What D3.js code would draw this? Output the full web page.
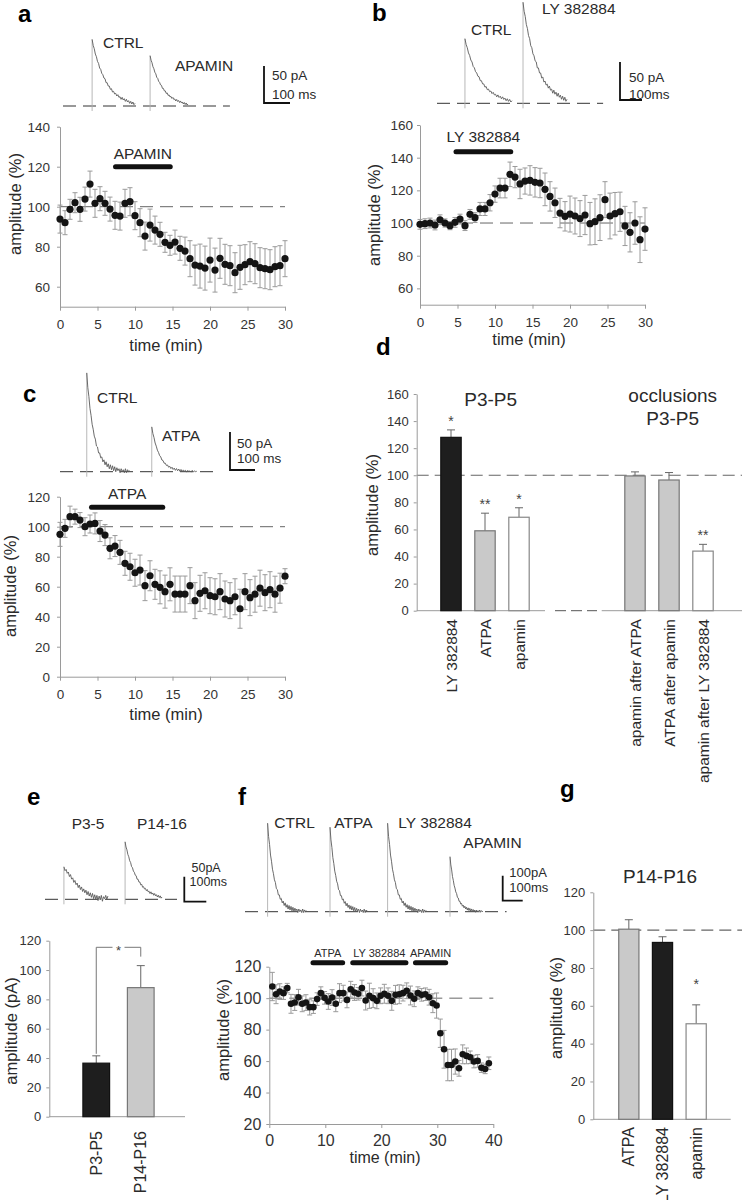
<!DOCTYPE html>
<html><head><meta charset="utf-8">
<script src="https://cdn.jsdelivr.net/npm/d3@7/dist/d3.min.js"></script>
<style>
html,body{margin:0;padding:0;background:#fff}
svg{display:block}
text{font-family:"Liberation Sans",Arial,Helvetica,sans-serif}
</style></head>
<body>
<svg id="fig" width="742" height="1200" viewBox="0 0 742 1200"></svg>
<script>
// ================= DATA =================
const sampleStep = 2/3;            // minutes between time-course samples
const abcXTicks = [0,5,10,15,20,25,30];

// panel a (apamin time course)
const aYTicks = [60,80,100,120,140];
const aStart = 0;
const aValues = [93.8,92,98.7,102,98.7,103.8,111.3,101.7,104,101.7,98.8,95.7,95.3,101.7,102.5,95.5,92,85.3,90.8,88.3,86.2,82.2,80.7,82.3,79.2,77.8,74,70.8,70.3,69.3,73.3,68.3,74.2,71.2,70.5,67,69.7,71,72.5,71.5,69.5,69,68.5,70,70.5,74];
const aErrors = [7,6,5,5,6,6,6.5,7,6,6,6,7,7,7,7,7,7,7,8,7,6,5,5,6,6,7,9,10,11,11,11,11,10,10,10,10,11,10,10,10,10,10,10,10,10,9];
const aDrugs = [{label:"APAMIN", start:7.4, end:14.7}];

// panel b (LY 382884 time course)
const bYTicks = [60,80,100,120,140,160];
const bStart = 0;
const bValues = [99.2,99.6,100,98.8,102,100,98.4,100.4,102.4,98.4,105.3,103.3,108.6,108.6,112.4,117.7,121.4,121.4,129.8,128.1,123.9,125.7,126.1,124.9,124.5,120.6,116.3,112.4,106.1,104.1,105.5,104.3,102.7,104.9,99.6,100.8,103.3,114.3,104.3,105.7,106.9,98.2,94.3,100,89.8,96.3];
const bErrors = [3,3,3,3,3,2.5,2.5,3,3,3,3,3,4,4,5,5,6,6,7.5,6.5,9,8,9,9,9,10,9,9,9,9,11,11,11,12,13,14,14,11,14,13,12,12,12,13,14,13];
const bDrugs = [{label:"LY 382884", start:4.8, end:12.1}];

// panel c (ATPA time course)
const cYTicks = [0,20,40,60,80,100,120];
const cStart = 0;
const cValues = [94.9,98.9,106.7,106.7,104.4,100,101.8,102.2,97.1,94.4,85.6,87.1,82.9,75.6,73.3,69.3,71.1,60.7,67.3,61.6,59.6,56.7,61.6,55.1,55.1,55.1,60.7,50.7,55.6,57.3,54,53.3,56.7,51.8,50.7,53.3,45.3,56.7,52.7,55,59,56,58,55,59,67];
const cErrors = [8,6,7,5,5,6,6,7,7,7,7,7,8,8,9,9,10,10,10,10,11,11,11,12,12,12,12,12,12,12,12,12,12,12,12,12,13,12,12,12,12,12,12,12,10,5];
const cDrugs = [{label:"ATPA", start:4.2, end:13.7}];

// panel d (P3-P5 bar chart)
const dYTicks = [0,20,40,60,80,100,120,140,160];
const dCats1 = ["LY 382884","ATPA","apamin"];
const dVals1 = [128,59,69];
const dErrs1 = [5.5,13,7];
const dSigs1 = ["*","**","*"];
const dCats2 = ["apamin after ATPA","ATPA after apamin","apamin after LY 382884"];
const dVals2 = [99.5,96.5,44];
const dErrs2 = [3,5.5,5];
const dSigs2 = ["","","**"];

// panel e (absolute amplitude)
const eYTicks = [0,20,40,60,80,100,120];
const eCats = ["P3-P5","P14-P16"];
const eVals = [36.5,88];
const eErrs = [5,15];

// panel f (sequential application, P14-P16)
const fYTicks = [20,40,60,80,100,120];
const fXTicks = [0,10,20,30,40];
const fStart = 0.54;
const fValues = [107.4,102.5,104.2,103.2,106.4,96.4,97.2,100.6,96.4,97.2,94.3,94.3,99.4,103.2,100.2,97.9,100.4,96.4,103.2,103.2,98.9,105.7,103.6,102.8,106.4,98.5,101.5,100,98.3,101.5,102.8,101.5,98.3,102.1,102.5,103.2,104.7,101.7,99.6,103.2,102.1,102.5,100.6,96.8,95.3,77.7,67.5,57.5,57.5,59.7,55.4,64.3,63.3,62.4,59.7,60.1,55.8,55,58.6];
const fErrors = [9,6,5,4,3,6,5,5,5,5,5,4,4,4,4,5,5,5,6,5,5,5,5,4,5,6,8,6,5,5,6,5,6,6,6,5,5,6,5,4,4,4,5,6,8,9,12,10,10,8,5,6,5,4,4,4,3,3,4];
const fDrugs = [{label:"ATPA", start:7.8, end:13.1},{label:"LY 382884", start:14.9, end:24.4},{label:"APAMIN", start:26.1, end:31.5}];

// panel g (P14-P16 bar chart)
const gYTicks = [0,20,40,60,80,100,120];
const gCats = ["ATPA","LY 382884","apamin"];
const gVals = [100.5,93.5,50.5];
const gErrs = [5,3,10];
const gSigs = ["","","*"];

// example current traces: normalised decay shapes
const shapeSlow = [1.00,0.91,0.86,0.78,0.74,0.67,0.64,0.57,0.55,0.49,0.47,0.42,0.41,0.35,0.35,0.30,0.30,0.25,0.26,0.21,0.22,0.18,0.19,0.15,0.17,0.13,0.14,0.10,0.13,0.09,0.11,0.07,0.10,0.06,0.08,0.04,0.07,0.03,0.06,0.02,0.04];
const shapeFast = [1.00,0.85,0.76,0.64,0.57,0.48,0.43,0.36,0.33,0.26,0.25,0.19,0.19,0.14,0.15,0.10,0.12,0.07,0.10,0.05,0.08,0.03,0.07,0.02,0.06,0.01,0.05,0.00,0.04,0.01,0.03,-0.01,0.03,0.00,0.02,-0.01,0.03,-0.01,0.02,0.00,0.01];
const shapeNoisy = [1.00,0.88,0.92,0.80,0.84,0.70,0.76,0.62,0.66,0.52,0.58,0.45,0.50,0.36,0.44,0.30,0.38,0.24,0.32,0.20,0.28,0.14,0.24,0.10,0.20,0.06,0.18,0.02,0.14,0.00,0.12,-0.04,0.10,-0.02,0.12,-0.06,0.08,0.02,0.12,0.00,0.10];
// traces: onset (ms), peak (pA), decay duration (ms)
const aTraces = [{name:"CTRL", onset:112, peak:90, dur:165, shape:"slow"},{name:"APAMIN", onset:335, peak:68, dur:146, shape:"slow"}];
const bTraces = [{name:"CTRL", onset:127, peak:85, dur:214, shape:"slow"},{name:"LY 382884", onset:391, peak:133, dur:200, shape:"slow"}];
const cTraces = [{name:"CTRL", onset:107, peak:130, dur:172, shape:"fast"},{name:"ATPA", onset:367, peak:59, dur:180, shape:"fast"}];
const eTraces = [{name:"P3-5", onset:86, peak:65, dur:200, shape:"noisy"},{name:"P14-16", onset:364, peak:115, dur:168, shape:"slow"}];
const fTraces = [{name:"CTRL", onset:113, peak:354, dur:195, shape:"fast"},{name:"ATPA", onset:425, peak:338, dur:190, shape:"fast"},{name:"LY 382884", onset:713, peak:354, dur:195, shape:"fast"},{name:"APAMIN", onset:1025, peak:220, dur:165, shape:"fast"}];

// ================= DRAWING =================
const shapes = {slow:shapeSlow, fast:shapeFast, noisy:shapeNoisy};
const svg = d3.select('#fig');
const INK = '#2a2a2a', AX = '#9a9a9a', ERR = '#9a9a9a';

function label(g, x, y, s, size, o={}) {
  const t = g.append('text').attr('x',x).attr('y',y).attr('font-size',size).attr('fill',o.fill||INK).text(s);
  if (o.anchor) t.attr('text-anchor',o.anchor);
  if (o.weight) t.attr('font-weight',o.weight);
  if (o.rotate) t.attr('transform',`rotate(-90,${x},${y})`);
  return t;
}
function styleAxis(sel, size) {
  sel.attr('font-size', size).attr('font-family', null);
  sel.select('.domain').attr('stroke', AX);
  sel.selectAll('.tick line').attr('stroke', AX);
  sel.selectAll('.tick text').attr('fill', '#333');
}

function timeCourse(o) {
  const g = svg.append('g');
  const x = d3.scaleLinear().domain(o.xDomain).range(o.xRange);
  const y = d3.scaleLinear().domain(o.yDomain).range(o.yRange);
  g.append('line').attr('x1',o.xRange[0]).attr('x2',o.xRange[1]).attr('y1',y(100)).attr('y2',y(100))
    .attr('stroke','#666').attr('stroke-width',1).attr('stroke-dasharray','13,7');
  const ya = g.append('g').attr('transform',`translate(${o.xRange[0]},0)`)
    .call(d3.axisLeft(y).tickValues(o.yTicks).tickSize(3).tickSizeOuter(0).tickPadding(o.yPad));
  const xa = g.append('g').attr('transform',`translate(0,${o.yRange[0]})`)
    .call(d3.axisBottom(x).tickValues(o.xTicks).tickSize(4).tickSizeOuter(0).tickPadding(o.xPad||9));
  styleAxis(ya, o.tickFont); styleAxis(xa, o.tickFont);
  const pts = o.values.map((v,i)=>({t:o.t0+i*sampleStep, v, e:o.errors[i]}));
  const eb = g.append('g').attr('stroke',ERR).attr('stroke-width',1);
  pts.forEach(p=>{
    const cx = x(p.t), y1 = y(p.v-p.e), y2 = y(p.v+p.e);
    eb.append('line').attr('x1',cx).attr('x2',cx).attr('y1',y1).attr('y2',y2);
    eb.append('line').attr('x1',cx-2.5).attr('x2',cx+2.5).attr('y1',y1).attr('y2',y1);
    eb.append('line').attr('x1',cx-2.5).attr('x2',cx+2.5).attr('y1',y2).attr('y2',y2);
  });
  g.append('g').selectAll('circle').data(pts).join('circle')
    .attr('cx',d=>x(d.t)).attr('cy',d=>y(d.v)).attr('r',o.r).attr('fill','#141414');
  o.drugs.forEach(d=>{
    g.append('line').attr('x1',x(d.start)).attr('x2',x(d.end)).attr('y1',y(o.drugY)).attr('y2',y(o.drugY))
      .attr('stroke','#111').attr('stroke-width',o.drugW).attr('stroke-linecap','round');
    label(g,(x(d.start)+x(d.end))/2, y(o.drugY)-o.drugGap, d.label, o.drugFont, {anchor:'middle'});
  });
  label(g, o.xTitle[0], o.xTitle[1], 'time (min)', o.titleFont||16.5, {anchor:'middle'});
  label(g, o.yTitle[0], o.yTitle[1], 'amplitude (%)', 16.5, {anchor:'middle', rotate:true});
}

function tracePanel(o) {
  const g = svg.append('g');
  const tx = d3.scaleLinear().domain([0,100]).range([o.x0, o.x0+o.px100ms]);
  const ty = d3.scaleLinear().domain([0,50]).range([o.base, o.base-o.px50pA]);
  g.append('line').attr('x1',tx(0)).attr('x2',tx(o.endMs)).attr('y1',ty(0)).attr('y2',ty(0))
    .attr('stroke','#333').attr('stroke-width',1).attr('stroke-dasharray','13,7');
  o.traces.forEach((tr,k)=>{
    const sh = shapes[tr.shape];
    const pts = sh.map((s,i)=>[tr.onset + i*tr.dur/(sh.length-1), tr.peak*s]);
    g.append('line').attr('x1',tx(tr.onset)).attr('x2',tx(tr.onset)).attr('y1',ty(0)+5).attr('y2',ty(tr.peak))
      .attr('stroke','#b0b0b0').attr('stroke-width',0.9);
    g.append('path').attr('d',d3.line().x(d=>tx(d[0])).y(d=>ty(d[1]))(pts))
      .attr('fill','none').attr('stroke','#5a5a5a').attr('stroke-width',0.9);
    const L = o.labels[k];
    label(g, L[0], L[1], tr.name, 15.5, {anchor:L[2]||'start'});
  });
  const sb = o.scaleBar;
  const h = ty(0)-ty(sb.pA), w = tx(100)-tx(0);
  g.append('path').attr('d',`M${sb.x},${sb.y-h}V${sb.y}H${sb.x+w}`)
    .attr('fill','none').attr('stroke','#111').attr('stroke-width',1.8);
  label(g, sb.tx, sb.t1y, sb.t1, sb.font);
  label(g, sb.tx2 || sb.tx, sb.t2y, sb.t2, sb.font);
}

function barChart(o) {
  const g = svg.append('g');
  const y = d3.scaleLinear().domain(o.yDomain).range(o.yRange);
  if (o.dashEnd) g.append('line').attr('x1',o.axisX).attr('x2',o.dashEnd).attr('y1',y(100)).attr('y2',y(100))
    .attr('stroke','#666').attr('stroke-width',1.2).attr('stroke-dasharray','12,6');
  const ya = g.append('g').attr('transform',`translate(${o.axisX},0)`)
    .call(d3.axisLeft(y).tickValues(o.yTicks).tickSize(3).tickSizeOuter(0).tickPadding(o.yPad));
  styleAxis(ya, o.tickFont);
  o.xSegments.forEach(s=>{
    const l = g.append('line').attr('x1',s[0]).attr('x2',s[1]).attr('y1',y(0)).attr('y2',y(0)).attr('stroke',AX).attr('stroke-width',1);
    if (s[2]) l.attr('stroke','#555').attr('stroke-dasharray',s[2]);
  });
  const centers = [];
  o.groups.forEach(gr=>{
    const x = d3.scaleBand().domain(gr.cats).range(gr.range).paddingInner(0.4).paddingOuter(0.2);
    gr.cats.forEach((c,i)=>{
      const v = gr.vals[i], e = gr.errs[i], cx = x(c)+x.bandwidth()/2;
      centers.push(cx);
      g.append('line').attr('x1',cx).attr('x2',cx).attr('y1',y(v)).attr('y2',y(v+e)).attr('stroke','#666');
      g.append('line').attr('x1',cx-4).attr('x2',cx+4).attr('y1',y(v+e)).attr('y2',y(v+e)).attr('stroke','#666');
      g.append('rect').attr('x',x(c)).attr('y',y(v)).attr('width',x.bandwidth()).attr('height',y(0)-y(v))
        .attr('fill',gr.fills[i]).attr('stroke',gr.strokes[i]).attr('stroke-width',1.2);
      if (gr.sigs && gr.sigs[i]) label(g, cx, y(v+e)-o.sigGap+8, gr.sigs[i], 14, {anchor:'middle', fill:'#444'});
      label(g, cx+5.5, o.labelTop, c, o.catFont, {anchor:'end', rotate:true});
    });
  });
  (o.titles||[]).forEach(t=>label(g, t[0], t[1], t[2], 19, {anchor:'middle'}));
  label(g, o.yTitle[0], o.yTitle[1], o.yTitle[2], 16.5, {anchor:'middle', rotate:true});
  return {g, y, centers};
}

// ---- panel letters
[["a",18,22],["b",372,21],["c",23,402],["d",376,355],["e",27,805],["f",238,805],["g",560,797]]
  .forEach(p=>label(svg, p[1], p[2], p[0], 24, {weight:'bold', fill:'#000'}));

// ---- traces
tracePanel({x0:63, base:106, px100ms:26, px50pA:37, endMs:642, traces:aTraces,
  labels:[[103,48.3],[175,70.7]],
  scaleBar:{x:264, y:103, pA:50, tx:272, t1:'50 pA', t1y:80, t2:'100 ms', t2y:99, font:13.5}});
tracePanel({x0:437, base:103.3, px100ms:22, px50pA:38, endMs:755, traces:bTraces,
  labels:[[471,35],[542,13.5]],
  scaleBar:{x:620, y:100, pA:50, tx:629, t1:'50 pA', t1y:82, t2:'100ms', t2y:99, font:13.5}});
tracePanel({x0:60, base:471.7, px100ms:25, px50pA:38, endMs:628, traces:cTraces,
  labels:[[97,402.7],[162,440.7]],
  scaleBar:{x:230, y:470, pA:50, tx:237, t1:'50 pA', t1y:448, t2:'100 ms', t2y:463, font:13.5}});
tracePanel({x0:45, base:899.3, px100ms:22, px50pA:25, endMs:600, traces:eTraces,
  labels:[[88,829,'middle'],[162,829,'middle']],
  scaleBar:{x:184.3, y:901.7, pA:50, tx:191.5, tx2:189.5, t1:'50pA', t1y:872, t2:'100ms', t2y:885.5, font:12.5}});
tracePanel({x0:245, base:911.7, px100ms:20, px50pA:12.5, endMs:1308, traces:fTraces,
  labels:[[274.3,828],[334.3,828],[398.3,828],[463.3,848]],
  scaleBar:{x:502.7, y:900.7, pA:100, tx:509.3, t1:'100pA', t1y:876.7, t2:'100ms', t2y:891.7, font:13}});

// ---- time courses
timeCourse({xDomain:[0,30], xRange:[60,285], yDomain:[50,140], yRange:[306.7,126.7], yTicks:aYTicks, xTicks:abcXTicks,
  tickFont:13.5, yPad:7, t0:aStart, values:aValues, errors:aErrors, r:3.6, drugs:aDrugs, drugY:120, drugW:5, drugGap:7.4,
  drugFont:15.5, xTitle:[166,351], yTitle:[21,204]});
timeCourse({xDomain:[0,30], xRange:[420,645], yDomain:[50,160], yRange:[304.7,125], yTicks:bYTicks, xTicks:abcXTicks,
  tickFont:13.5, yPad:4, t0:bStart, values:bValues, errors:bErrors, r:3.6, drugs:bDrugs, drugY:143.6, drugW:5, drugGap:10,
  drugFont:15.5, xTitle:[529,345], yTitle:[380,215]});
timeCourse({xDomain:[0,30], xRange:[60,285], yDomain:[0,120], yRange:[676.7,496.7], yTicks:cYTicks, xTicks:abcXTicks,
  tickFont:13.5, yPad:7, t0:cStart, values:cValues, errors:cErrors, r:3.6, drugs:cDrugs, drugY:112.9, drugW:5, drugGap:8.3,
  drugFont:15.5, xTitle:[166,720], yTitle:[16,586]});
timeCourse({xDomain:[0,40], xRange:[269.3,493.3], yDomain:[20,120], yRange:[1124,966.7], yTicks:fYTicks, xTicks:fXTicks,
  tickFont:16, yPad:5, xPad:6.5, t0:fStart, values:fValues, errors:fErrors, r:3.3, drugs:fDrugs, drugY:122.5, drugW:5, drugGap:6,
  drugFont:11, xTitle:[385,1162.5], titleFont:16, yTitle:[229,1030]});

// ---- bar charts
barChart({yDomain:[0,160], yRange:[610.7,394], axisX:416.7, yTicks:dYTicks, tickFont:13, yPad:5, dashEnd:742,
  xSegments:[[416.7,545],[555,597,'11,5'],[601.7,742]],
  groups:[
    {cats:dCats1, vals:dVals1, errs:dErrs1, sigs:dSigs1, range:[434,536], fills:['#1e1e1e','#c9c9c9','#fff'], strokes:['#111','#777','#888']},
    {cats:dCats2, vals:dVals2, errs:dErrs2, sigs:dSigs2, range:[618,720], fills:['#c9c9c9','#c9c9c9','#fff'], strokes:['#777','#777','#888']}],
  sigGap:12, labelTop:619, catFont:15.5,
  titles:[[490.7,406,'P3-P5'],[672.7,401.7,'occlusions'],[672.7,425,'P3-P5']],
  yTitle:[378,505,'amplitude (%)']});

const E = barChart({yDomain:[0,120], yRange:[1116.7,940.7], axisX:49.3, yTicks:eYTicks, tickFont:13, yPad:5,
  xSegments:[[49.3,185]],
  groups:[{cats:eCats, vals:eVals, errs:eErrs, range:[74,163], fills:['#1e1e1e','#c9c9c9'], strokes:['#111','#777']}],
  sigGap:12, labelTop:1131, catFont:16, yTitle:[17,1031,'amplitude (pA)']});
// significance bracket between the two ages
(function(){
  const [c1,c2] = E.centers, by = 947.3, mid = (c1+c2)/2;
  E.g.append('path').attr('fill','none').attr('stroke','#777').attr('stroke-width',1)
    .attr('d',`M${c1},${E.y(eVals[0]+eErrs[0])-2}V${by}H${mid-6}M${mid+6},${by}H${c2}V${E.y(eVals[1]+eErrs[1])-9}`);
  label(E.g, mid, by+8, '*', 13, {anchor:'middle', fill:'#444'});
})();

barChart({yDomain:[0,120], yRange:[1119.3,892.3], axisX:593.3, yTicks:gYTicks, tickFont:13, yPad:5, dashEnd:742,
  xSegments:[[593.3,730.7]],
  groups:[{cats:gCats, vals:gVals, errs:gErrs, sigs:gSigs, range:[612,713], fills:['#c9c9c9','#1e1e1e','#fff'], strokes:['#777','#111','#888']}],
  sigGap:24, labelTop:1127, catFont:16,
  titles:[[660,883,'P14-P16']],
  yTitle:[562,1008,'amplitude (%)']});
</script>
</body></html>
